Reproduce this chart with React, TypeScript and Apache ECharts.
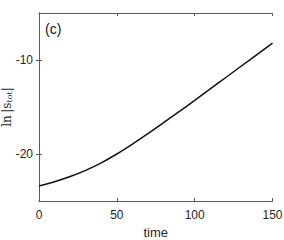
import React, { useEffect, useRef } from "react";
import * as echarts from "echarts";

const times = [0, 10, 20, 30, 40, 50, 60, 70, 80, 90, 100, 110, 120, 130, 140, 150];
const lnS = [-23.4, -22.95, -22.4, -21.74, -20.94, -20.0, -18.95, -17.83, -16.67, -15.49, -14.3, -13.08, -11.86, -10.64, -9.42, -8.2];
const xTicks = [0, 50, 100, 150];
const yTicks = [-20, -10];

export default function App() {
  const ref = useRef<HTMLDivElement>(null);
  useEffect(() => {
    const chart = echarts.init(ref.current!, null, { renderer: "svg" });
    const axisLine = { show: true, lineStyle: { color: "#5a5a5a", width: 1 } };
    const tick = { show: true, inside: true, length: 3, lineStyle: { color: "#5a5a5a" } };
    const font = '"Liberation Sans", Arial, sans-serif';
    const serif = '"DejaVu Serif", "Liberation Serif", serif';
    chart.setOption({
      animation: false,
      grid: { left: 39, right: 11.5, top: 13, bottom: 39, containLabel: false, outerBoundsMode: "none" },
      graphic: [
        {
          type: "text",
          left: 45,
          top: 22,
          style: { text: "(c)", font: "14px " + font, fill: "#111" },
        },
        {
          type: "text",
          x: 7,
          y: 107,
          rotation: Math.PI / 2,
          style: {
            text: "{a|ln\u2009|s}{b|tot}{a||}",
            align: "center",
            verticalAlign: "middle",
            rich: {
              a: { fontSize: 12, fontFamily: serif, fill: "#262626" },
              b: { fontSize: 8, fontFamily: serif, fill: "#262626", verticalAlign: "bottom", padding: [5, 0, 0, 0] },
            },
          },
        },
      ],
      xAxis: [
        {
          type: "value",
          min: 0,
          max: 150,
          interval: 50,
          position: "bottom",
          name: "time",
          nameLocation: "middle",
          nameGap: 21,
          nameTextStyle: { fontSize: 13, color: "#262626", fontFamily: font },
          axisLine,
          axisTick: { ...tick, customValues: xTicks },
          splitLine: { show: false },
          axisLabel: { fontSize: 12, color: "#262626", margin: 8, fontFamily: font, customValues: xTicks },
        },
        {
          type: "value",
          min: 0,
          max: 150,
          interval: 50,
          position: "top",
          axisLine,
          axisTick: tick,
          splitLine: { show: false },
          axisLabel: { show: false },
        },
      ],
      yAxis: [
        {
          type: "value",
          min: -25,
          max: -5,
          position: "left",
          axisLine,
          axisTick: { ...tick, customValues: yTicks },
          splitLine: { show: false },
          axisLabel: { fontSize: 12, color: "#262626", margin: 6, fontFamily: font, customValues: yTicks },
        },
        {
          type: "value",
          min: -25,
          max: -5,
          position: "right",
          axisLine,
          axisTick: { ...tick, customValues: yTicks },
          splitLine: { show: false },
          axisLabel: { show: false, customValues: yTicks },
        },
      ],
      series: [
        {
          type: "line",
          data: times.map((t, i) => [t, lnS[i]]),
          smooth: 0.4,
          showSymbol: false,
          lineStyle: { color: "#111", width: 1.5 },
        },
      ],
    });
    return () => chart.dispose();
  }, []);
  return <div ref={ref} style={{ position: "fixed", left: 0, top: 0, width: 284, height: 240, background: "#fff" }} />;
}
